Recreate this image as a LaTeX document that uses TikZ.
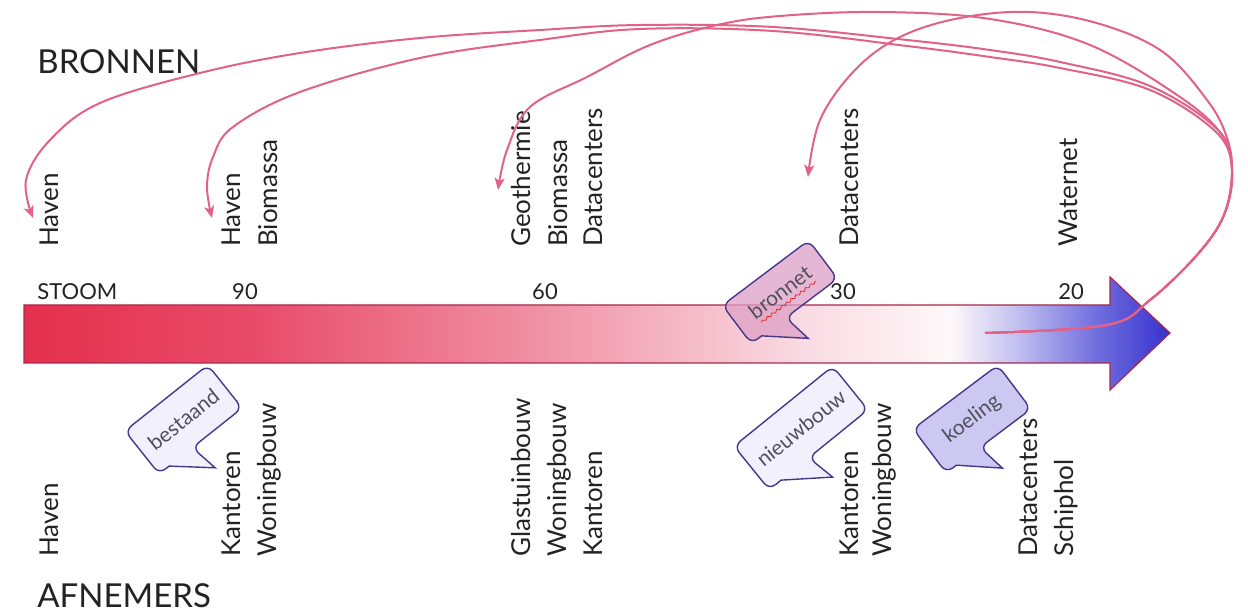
\documentclass[tikz,border=0pt]{standalone}
\usepackage{fontspec}
\setmainfont{Lato}
\usetikzlibrary{arrows.meta,decorations.pathmorphing}
\definecolor{txt}{RGB}{35,35,35}
\definecolor{ctxt}{RGB}{80,80,92}
\definecolor{flow}{RGB}{226,98,135}
\definecolor{barline}{RGB}{170,40,75}
\definecolor{cline}{RGB}{70,55,140}
\definecolor{cfill}{RGB}{242,240,252}
\definecolor{kfill}{RGB}{204,200,242}
\definecolor{bfill}{RGB}{222,160,198}
\definecolor{sq}{RGB}{225,40,40}
\definecolor{c0}{RGB}{228,48,76}
\definecolor{c1}{RGB}{232,75,105}
\definecolor{c2}{RGB}{240,145,165}
\definecolor{c3}{RGB}{249,218,226}
\definecolor{c4}{RGB}{254,248,250}
\definecolor{c5}{RGB}{200,198,240}
\definecolor{c6}{RGB}{110,108,222}
\definecolor{c7}{RGB}{55,50,205}
\pgfdeclarehorizontalshading{barshade}{100bp}{color(0bp)=(c0); color(25bp)=(c0); color(34.9bp)=(c1); color(47.5bp)=(c2); color(58.9bp)=(c3); color(65.4bp)=(c4); color(68bp)=(c5); color(71.9bp)=(c6); color(75bp)=(c7); color(100bp)=(c7)}
\tikzset{
  lbl/.style={text=txt, font=\fontsize{13}{15}\selectfont, inner sep=0pt, rotate=90, anchor=base west},
  head/.style={text=txt, font=\fontsize{16.5}{19}\selectfont, inner sep=0pt, anchor=base west},
  tick/.style={text=txt, font=\fontsize{11}{13}\selectfont, inner sep=0pt, anchor=base},
  flowline/.style={draw=flow, line width=1pt, -{Stealth[length=6pt,width=5pt,inset=1.5pt]}},
  cbox/.style={draw=cline, line width=0.7pt},
  ctext/.style={text=ctxt, font=\fontsize{10.5}{12}\selectfont, inner sep=0pt},
}
\newcommand\mycallout[8]{%
  \begin{scope}[shift={(#2,#3)},rotate=#4]
    \draw[cbox,#7] ({-#5/2},{-#6/2}) [rounded corners=4pt] -- ({#5/2},{-#6/2}) -- ({#5/2},{#6/2}) -- ({-0.10*#5},{#6/2}) [sharp corners] -- ({-0.05*#5},{#6/2+30}) -- ({-0.38*#5},{#6/2}) [rounded corners=4pt] -- ({-#5/2},{#6/2}) -- cycle;
    \node[ctext,rotate=#4] (#1) at (0,0) {#8};
  \end{scope}}
\begin{document}
\begin{tikzpicture}[x=0.5pt,y=-0.5pt]
\useasboundingbox[fill=white] (0,0) rectangle (1248,613);
% temperature bar
\shadedraw[shading=barshade, draw=barline, line width=0.6pt] (24,305) -- (1110,305) -- (1110,277) -- (1170,333) -- (1110,390) -- (1110,363) -- (24,363) -- cycle;
% headings and ticks
\node[head] (bronnen) at (37,74) {BRONNEN};
\node[head] (afnemers) at (37,608) {AFNEMERS};
\node[tick, anchor=base west] (stoom) at (37,300) {STOOM};
\node[tick] (t90) at (245,300) {90};
\node[tick] (t60) at (545,300) {60};
\node[tick] (t30) at (843,300) {30};
\node[tick] (t20) at (1071,300) {20};
% sources
\node[lbl] (s1) at (58,247) {Haven};
\node[lbl] (s2) at (240,247) {Haven};
\node[lbl] (s3) at (277,247) {Biomassa};
\node[lbl] (s4) at (530,247) {Geothermie};
\node[lbl] (s5) at (567,247) {Biomassa};
\node[lbl] (s6) at (602,247) {Datacenters};
\node[lbl] (s7) at (858,247) {Datacenters};
\node[lbl] (s8) at (1077,247) {Waternet};
% consumers
\node[lbl] (a1) at (58,557) {Haven};
\node[lbl] (a2) at (240,557) {Kantoren};
\node[lbl] (a3) at (276,557) {Woningbouw};
\node[lbl] (a4) at (530,557) {Glastuinbouw};
\node[lbl] (a5) at (566,557) {Woningbouw};
\node[lbl] (a6) at (602,557) {Kantoren};
\node[lbl] (a7) at (858,557) {Kantoren};
\node[lbl] (a8) at (891,557) {Woningbouw};
\node[lbl] (a9) at (1037,557) {Datacenters};
\node[lbl] (a10) at (1073,557) {Schiphol};
% callouts
\mycallout{cb1}{183.5}{419.5}{38.5}{106}{55}{fill=cfill}{bestaand}
\mycallout{cb2}{780}{292}{37}{108}{48}{fill=bfill,fill opacity=0.75}{bronnet}
\begin{scope}[shift={(780,292)},rotate=37]
  \draw[sq, line width=0.4pt, decorate, decoration={snake, amplitude=0.6pt, segment length=3pt}] (-33,13) -- (35,13);
\end{scope}
\mycallout{cb3}{801}{428}{39}{127}{56}{fill=cfill}{nieuwbouw}
\mycallout{cb4}{972}{419}{37}{106}{55}{fill=kfill}{koeling}
% flows
\coordinate (S) at (985,333);
\coordinate (tA) at (33,218);
\coordinate (tB) at (212,218);
\coordinate (tC) at (498,190);
\coordinate (tE) at (808,177);
\draw[flowline] plot[smooth,tension=0.6] coordinates {(S) (1107,325) (1150,300) (1197,255) (1224,215) (1232,170) (1218,130) (1150,86) (1060,62) (990,50) (907,40) (773,27) (640,25) (540,30) (420,38) (300,53) (200,73) (100,103) (50,140) (26,180) (tA)};
\draw[flowline] plot[smooth,tension=0.6] coordinates {(S) (1107,325) (1150,300) (1197,255) (1224,215) (1232,170) (1216,132) (1150,90) (1060,68) (990,57) (907,46) (773,31) (640,29) (540,40) (420,58) (300,92) (233,127) (213,157) (207,187) (tB)};
\draw[flowline] plot[smooth,tension=0.6] coordinates {(S) (1107,325) (1150,300) (1197,255) (1224,215) (1232,170) (1222,135) (1180,97) (1090,45) (990,19) (880,12) (780,16) (717,25) (650,45) (587,77) (530,107) (507,150) (tC)};
\draw[flowline] plot[smooth,tension=0.6] coordinates {(S) (1107,325) (1150,300) (1197,255) (1224,215) (1232,170) (1226,135) (1207,100) (1163,52) (1100,24) (1030,12) (960,18) (900,37) (855,70) (820,120) (tE)};
\end{tikzpicture}
\end{document}
